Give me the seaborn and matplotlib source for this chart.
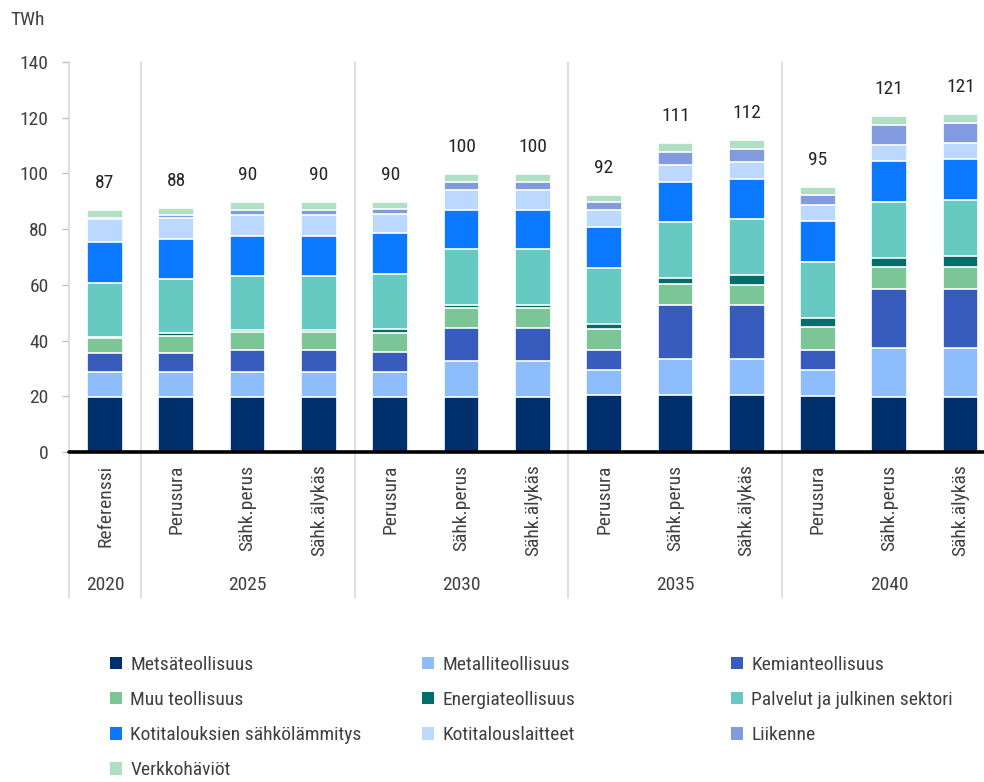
import matplotlib
matplotlib.use("Agg")
import matplotlib.pyplot as plt
import matplotlib.font_manager as fm
from matplotlib.patches import Patch
import numpy as np
import pandas as pd
import seaborn as sns

# --- data -----------------------------------------------------------------
scenarios = ["Referenssi",
             "Perusura", "Sähk.perus", "Sähk.älykäs",
             "Perusura", "Sähk.perus", "Sähk.älykäs",
             "Perusura", "Sähk.perus", "Sähk.älykäs",
             "Perusura", "Sähk.perus", "Sähk.älykäs"]
years = ["2020", "2025", "2030", "2035", "2040"]
year_groups = [[0], [1, 2, 3], [4, 5, 6], [7, 8, 9], [10, 11, 12]]

metsa = [19.6, 19.6, 19.6, 19.6, 19.7, 19.7, 19.7, 20.3, 20.3, 20.3, 20.2, 19.8, 19.8]
metalli = [9.1, 9.2, 9.1, 9.1, 9.1, 13.0, 13.0, 9.1, 13.2, 13.2, 9.2, 17.5, 17.5]
kemia = [6.8, 6.9, 8.0, 8.0, 7.2, 11.9, 11.9, 7.3, 19.2, 19.2, 7.3, 21.2, 21.2]
muu = [5.4, 6.1, 6.5, 6.5, 6.8, 7.0, 7.0, 7.3, 7.6, 7.4, 8.1, 7.9, 7.9]
energia = [0.3, 0.8, 0.7, 0.7, 1.4, 1.3, 1.3, 2.0, 2.0, 3.3, 3.2, 3.2, 3.9]
palvelut = [19.5, 19.4, 19.2, 19.2, 19.7, 20.0, 20.0, 20.2, 20.1, 20.1, 20.3, 20.3, 20.3]
lammitys = [14.6, 14.6, 14.4, 14.4, 14.6, 14.1, 14.1, 14.5, 14.6, 14.5, 14.5, 14.5, 14.5]
laitteet = [8.3, 7.5, 7.6, 7.6, 6.8, 7.0, 7.0, 6.3, 6.2, 6.1, 5.7, 5.8, 5.8]
liikenne = [0.5, 0.8, 1.8, 1.8, 1.9, 3.0, 3.0, 2.7, 4.5, 4.7, 3.9, 7.1, 7.1]
verkko = [2.9, 2.7, 2.7, 2.7, 2.4, 2.7, 2.7, 2.4, 3.1, 3.2, 2.6, 3.3, 3.2]

series_names = ["Metsäteollisuus", "Metalliteollisuus", "Kemianteollisuus",
                "Muu teollisuus", "Energiateollisuus", "Palvelut ja julkinen sektori",
                "Kotitalouksien sähkölämmitys", "Kotitalouslaitteet", "Liikenne",
                "Verkkohäviöt"]
series_values = [metsa, metalli, kemia, muu, energia, palvelut,
                 lammitys, laitteet, liikenne, verkko]
series_colors = ["#00306b", "#8dbdfd", "#385bbe", "#7cc597", "#006e6b",
                 "#66c9c2", "#0b79ff", "#bbd8ff", "#829ade", "#b0dfc4"]

# --- style ----------------------------------------------------------------
sns.set_theme(style="white")
available = {f.name for f in fm.fontManager.ttflist}
narrow = next((n for n in ["Roboto Condensed", "Liberation Sans Narrow",
                           "Open Sans Condensed", "Noto Sans Condensed"]
               if n in available), None)
if narrow:
    plt.rcParams["font.family"] = [narrow, "DejaVu Sans"]
else:
    plt.rcParams["font.family"] = ["DejaVu Sans"]
    plt.rcParams["font.stretch"] = "condensed"
TEXT = "#404040"
FS = 14

# --- long table with cumulative heights -----------------------------------
n = len(scenarios)
bar_ids = [f"b{i}" for i in range(n)]
cum = np.cumsum(np.array(series_values), axis=0)
rows = []
for s, name in enumerate(series_names):
    for i in range(n):
        rows.append({"bar": bar_ids[i], "series": name, "cum": cum[s, i]})
df = pd.DataFrame(rows)
totals = cum[-1]

fig = plt.figure(figsize=(9.84, 7.82), dpi=100)
W, H = 984, 782
x0, y0, ytop = 69.35, 452, 62
step = 71.3
ax = fig.add_axes([x0 / W, 1 - y0 / H, 1 - x0 / W, (y0 - ytop) / H])

# stacked bars: draw cumulative heights from the top layer down
for name, color in reversed(list(zip(series_names, series_colors))):
    sns.barplot(data=df[df["series"] == name], x="bar", y="cum", order=bar_ids,
                color=color, saturation=1, width=0.5, edgecolor="white",
                linewidth=1.2, errorbar=None, ax=ax, zorder=2)

ax.set_xlim(-0.5, -0.5 + (W - x0) / step)
ax.set_ylim(0, 140)
ax.set_xlabel("")
ax.set_ylabel("")
ax.set_yticks(range(0, 141, 20))
ax.tick_params(axis="y", labelsize=FS, labelcolor=TEXT, colors="#bfbfbf",
               length=5, width=1, pad=10, left=True)
ax.set_xticks(range(n))
ax.set_xticklabels(scenarios, rotation=90)
ax.tick_params(axis="x", labelsize=FS, labelcolor=TEXT, length=0, pad=9)
for sp in ax.spines.values():
    sp.set_visible(False)

# baseline
ax.axhline(0, color="black", lw=2.6, zorder=3, clip_on=False)

# group separators and the y axis line, running down into the label area
xt = ax.get_xaxis_transform()
bottom_ax = (y0 - 598) / (y0 - ytop)
for xs in [-0.5, 0.5, 3.5, 6.5, 9.5]:
    ax.plot([xs, xs], [bottom_ax, 1], transform=xt, color="#d9d9d9",
            lw=1.2, clip_on=False, zorder=1)

# year labels
year_y = (y0 - 585) / (y0 - ytop)
for yr, grp in zip(years, year_groups):
    ax.text(np.mean(grp), year_y, yr, transform=xt, ha="center", va="center",
            fontsize=FS, color=TEXT)

# totals above bars
for i, t in enumerate(totals):
    ax.annotate(f"{t:.0f}", xy=(i, t), xytext=(0, 19.5),
                textcoords="offset points", ha="center", va="center",
                fontsize=FS, color="#262626")

fig.text(10 / W, 1 - 20 / H, "TWh", ha="left", va="center", fontsize=FS,
         color=TEXT)

# legend, three columns laid out row by row
handles = [Patch(facecolor=c, edgecolor="none") for c in series_colors]
columns = [[0, 3, 6, 9], [1, 4, 7], [2, 5, 8]]
col_x = [110, 422, 731]
for idxs, cx in zip(columns, col_x):
    fig.legend([handles[k] for k in idxs], [series_names[k] for k in idxs],
               loc="upper left", bbox_to_anchor=(cx / W, 1 - 656 / H),
               frameon=False, fontsize=FS, labelcolor=TEXT, borderpad=0,
               borderaxespad=0, handlelength=0.6, handleheight=0.6,
               handletextpad=0.45, labelspacing=0.88)

fig.savefig("out.png", dpi=100)
